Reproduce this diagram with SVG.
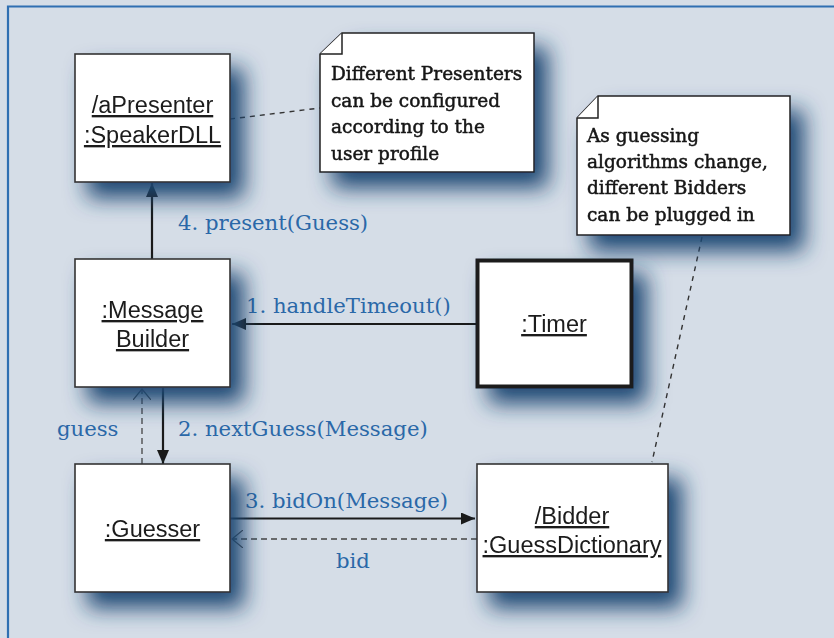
<svg xmlns="http://www.w3.org/2000/svg" width="834" height="638" viewBox="0 0 834 638">
<defs>
<filter id="sh" x="-40%" y="-40%" width="190%" height="190%">
<feGaussianBlur in="SourceAlpha" stdDeviation="11"/>
<feOffset dx="13" dy="15" result="b"/>
<feFlood flood-color="#1c4672" flood-opacity="1"/>
<feComposite in2="b" operator="in" result="s"/>
<feMerge><feMergeNode in="s"/><feMergeNode in="SourceGraphic"/></feMerge>
</filter>
<marker id="fa" viewBox="0 0 14 12" refX="14" refY="6" markerWidth="14" markerHeight="12" markerUnits="userSpaceOnUse" orient="auto">
<path d="M0,0 L14,6 L0,12 z" fill="#1a1a1a"/>
</marker>
<marker id="oa" viewBox="0 0 12 18" refX="11" refY="9" markerWidth="12" markerHeight="18" markerUnits="userSpaceOnUse" orient="auto">
<path d="M0,0 L11,9 L0,18" fill="none" stroke="#444" stroke-width="1.2"/>
</marker>
<style>
.box{fill:#fff;stroke:#333;stroke-width:1.6}
.nt{font-family:"Liberation Sans",Arial,sans-serif;font-size:23.5px;fill:#1a1a1a;text-anchor:middle;text-decoration:underline}
.note{fill:#fff;stroke:#222;stroke-width:1.5}
.ntx{font-family:"DejaVu Serif","Liberation Serif",serif;font-size:18.5px;fill:#151515;stroke:#151515;stroke-width:0.5}
.lbl{font-family:"DejaVu Serif","Liberation Serif",serif;font-size:21.2px;fill:#2a68a8}
.solid{stroke:#1a1a1a;stroke-width:2.2;fill:none}
.dash{stroke:#444;stroke-width:1.3;stroke-dasharray:6,4;fill:none}
.dot{stroke:#333;stroke-width:1.4;stroke-dasharray:5,5;fill:none}
</style>
</defs>
<rect x="0" y="0" width="834" height="638" fill="#d5dde7"/>
<path d="M8,638 L8,6.5 L834,6.5" fill="none" stroke="#2f6fb2" stroke-width="2.2"/>

<g id="connectors">
<line class="dot" x1="230" y1="119" x2="320" y2="108"/>
<line class="dot" x1="702" y1="237" x2="652" y2="462"/>
<line class="solid" x1="152" y1="259" x2="152" y2="183" marker-end="url(#fa)"/>
<line class="solid" x1="476" y1="324" x2="232" y2="324" marker-end="url(#fa)"/>
<line class="solid" x1="163" y1="388" x2="163" y2="464" marker-end="url(#fa)"/>
<line class="dash" x1="142" y1="464" x2="142" y2="389" marker-end="url(#oa)"/>
<line class="solid" x1="230" y1="518.5" x2="475" y2="518.5" marker-end="url(#fa)"/>
<line class="dash" x1="477" y1="539" x2="232" y2="539" marker-end="url(#oa)"/>
<text class="lbl" x="178" y="230">4. present(Guess)</text>
<text class="lbl" x="246" y="313">1. handleTimeout()</text>
<text class="lbl" x="178" y="436">2. nextGuess(Message)</text>
<text class="lbl" x="57" y="436">guess</text>
<text class="lbl" x="245" y="508">3. bidOn(Message)</text>
<text class="lbl" x="336" y="568">bid</text>
</g>

<g id="aPresenter" filter="url(#sh)">
<rect class="box" x="75" y="54" width="155" height="128"/>
<text class="nt" x="152.5" y="113">/aPresenter</text>
<text class="nt" x="152.5" y="143">:SpeakerDLL</text>
</g>

<g id="note1" filter="url(#sh)">
<path class="note" d="M342,33 L534,33 L534,172 L320,172 L320,54 Z"/>
<path class="note" d="M320,54 L342,54 L342,33" fill="none"/>
<text class="ntx" x="331" y="80">Different Presenters</text>
<text class="ntx" x="331" y="107">can be configured</text>
<text class="ntx" x="331" y="133">according to the</text>
<text class="ntx" x="331" y="160">user profile</text>
</g>

<g id="note2" filter="url(#sh)">
<path class="note" d="M598,96 L790,96 L790,235 L577,235 L577,118 Z"/>
<path class="note" d="M577,118 L598,118 L598,96" fill="none"/>
<text class="ntx" x="587" y="142">As guessing</text>
<text class="ntx" x="587" y="168">algorithms change,</text>
<text class="ntx" x="587" y="194">different Bidders</text>
<text class="ntx" x="587" y="221">can be plugged in</text>
</g>

<g id="messageBuilder" filter="url(#sh)">
<rect class="box" x="75" y="259" width="155" height="128"/>
<text class="nt" x="152.5" y="318">:Message</text>
<text class="nt" x="152.5" y="347">Builder</text>
</g>

<g id="timer" filter="url(#sh)">
<rect x="477.5" y="260.5" width="154" height="126" fill="#fff" stroke="#1a1a1a" stroke-width="4"/>
<text class="nt" x="554" y="332">:Timer</text>
</g>

<g id="guesser" filter="url(#sh)">
<rect class="box" x="75" y="464" width="155" height="128"/>
<text class="nt" x="152.5" y="537">:Guesser</text>
</g>

<g id="bidder" filter="url(#sh)">
<rect class="box" x="477" y="464" width="191" height="128"/>
<text class="nt" x="572" y="524">/Bidder</text>
<text class="nt" x="572" y="553">:GuessDictionary</text>
</g>
</svg>
